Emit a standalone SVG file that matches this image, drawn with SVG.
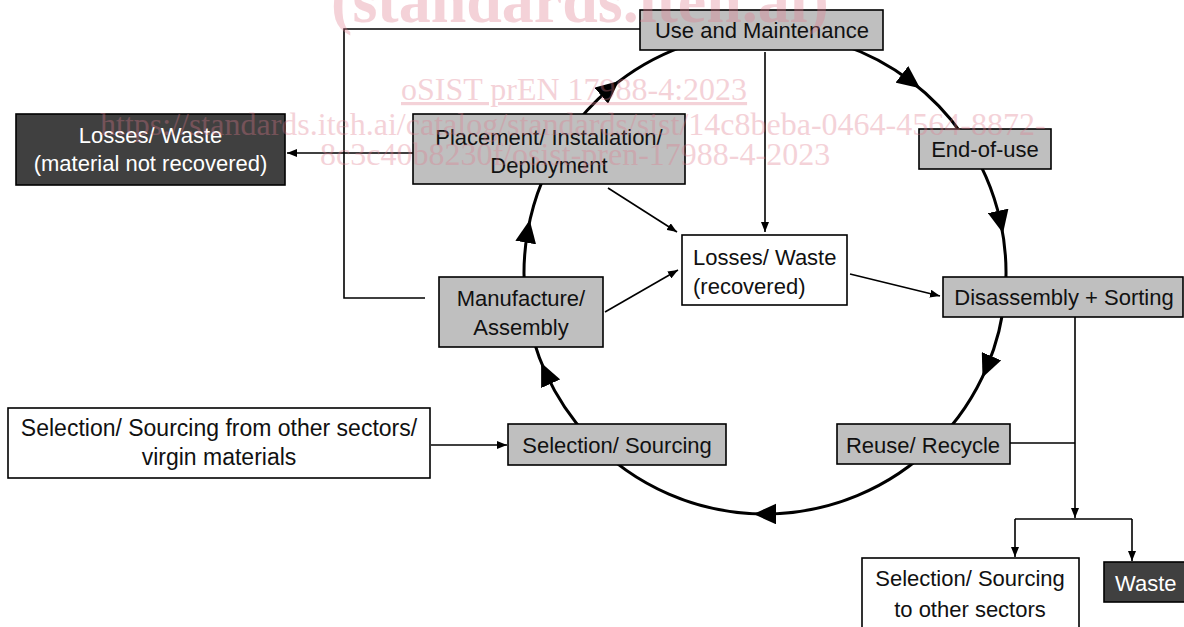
<svg xmlns="http://www.w3.org/2000/svg" width="1184" height="627" viewBox="0 0 1184 627">
<style>
.box{stroke:#000;stroke-width:1.6}
.gray{fill:#bfbfbf}
.dark{fill:#404040}
.white{fill:#fff}
.t{font-family:"Liberation Sans",Arial,sans-serif;font-size:22px;fill:#111}
.tw{font-family:"Liberation Sans",Arial,sans-serif;font-size:22px;fill:#fff}
.c{text-anchor:middle}
.ring{fill:none;stroke:#000;stroke-width:3;marker-mid:url(#big)}
.ln{fill:none;stroke:#000;stroke-width:1.6}
.ar{marker-end:url(#small)}
.wm{font-family:"Liberation Serif","Times New Roman",serif;fill:#e07a8c;opacity:0.33}
</style>
<defs>
<marker id="big" markerUnits="userSpaceOnUse" markerWidth="23" markerHeight="21" viewBox="0 0 23 21" refX="11.5" refY="10.5" orient="auto">
<path d="M0,0 L23,10.5 L0,21 z" fill="#000"/>
</marker>
<marker id="small" markerUnits="userSpaceOnUse" markerWidth="10" markerHeight="8" viewBox="0 0 10 8" refX="10" refY="4" orient="auto">
<path d="M0,0 L10,4 L0,8 z" fill="#000"/>
</marker>
</defs>
<rect width="1184" height="627" fill="#fff"/>

<g id="connectors">
<path class="ring" d="M765,32 A241,241 0 0 1 911.0,81.3 A241,241 0 0 1 962.4,134.8"/>
<path class="ring" d="M962.4,134.8 A241,241 0 0 1 1000.6,222.1 A241,241 0 0 1 1005.1,294.0"/>
<path class="ring" d="M1005.1,294.0 A241,241 0 0 1 987.0,366.8 A241,241 0 0 1 935.4,443.4"/>
<path class="ring" d="M935.4,443.4 A241,241 0 0 1 765,514 A241,241 0 0 1 588.7,437.4"/>
<path class="ring" d="M588.7,437.4 A241,241 0 0 1 545.9,373.3 A241,241 0 0 1 526.3,306.5"/>
<path class="ring" d="M526.3,306.5 A241,241 0 0 1 527.7,231.2 A241,241 0 0 1 567.6,134.8"/>
<path class="ring" d="M567.6,134.8 A241,241 0 0 1 610.1,88.4 A241,241 0 0 1 765,32"/>
<path class="ln" d="M640,29 H344 V298 H425"/>
<path class="ln ar" d="M414,153 H287"/>
<path class="ln ar" d="M765,52 V232"/>
<path class="ln ar" d="M608,188 L677,232"/>
<path class="ln ar" d="M605,312 L678,270"/>
<path class="ln ar" d="M850,274 L940,296"/>
<path class="ln ar" d="M431,445 H507"/>
<path class="ln ar" d="M1075,317 V518"/>
<path class="ln" d="M1010,443 H1075"/>
<path class="ln" d="M1015,519 H1132"/>
<path class="ln ar" d="M1015,519 V557"/>
<path class="ln ar" d="M1132,519 V561"/>
</g>

<g id="use-maintenance">
<rect class="box gray" x="640" y="10" width="243" height="40"/>
<text class="t c" x="762" y="38">Use and Maintenance</text>
</g>
<g id="losses-not-recovered">
<rect class="box dark" x="16" y="114" width="269" height="71"/>
<text class="tw c" x="150.5" y="143">Losses/ Waste</text>
<text class="tw c" x="150.5" y="171">(material not recovered)</text>
</g>
<g id="placement">
<rect class="box gray" x="413" y="114" width="272" height="70"/>
<text class="t c" x="549" y="145">Placement/ Installation/</text>
<text class="t c" x="549" y="173">Deployment</text>
</g>
<g id="end-of-use">
<rect class="box gray" x="919" y="129" width="132" height="40"/>
<text class="t c" x="985" y="157">End-of-use</text>
</g>
<g id="manufacture">
<rect class="box gray" x="439" y="277" width="164" height="70"/>
<text class="t c" x="521" y="306">Manufacture/</text>
<text class="t c" x="521" y="335">Assembly</text>
</g>
<g id="losses-recovered">
<rect class="box white" x="682" y="235" width="165" height="70"/>
<text class="t" x="693" y="265">Losses/ Waste</text>
<text class="t" x="693" y="294">(recovered)</text>
</g>
<g id="disassembly">
<rect class="box gray" x="943" y="277" width="240" height="40"/>
<text class="t c" x="1064" y="305">Disassembly + Sorting</text>
</g>
<g id="reuse-recycle">
<rect class="box gray" x="837" y="424" width="173" height="40"/>
<text class="t c" x="923" y="453">Reuse/ Recycle</text>
</g>
<g id="selection-sourcing">
<rect class="box gray" x="508" y="424" width="218" height="41"/>
<text class="t c" x="617" y="453">Selection/ Sourcing</text>
</g>
<g id="sourcing-from-other">
<rect class="box white" x="8" y="408" width="422" height="70"/>
<text class="t c" x="219" y="436" style="font-size:23px">Selection/ Sourcing from other sectors/</text>
<text class="t c" x="219" y="465" style="font-size:23px">virgin materials</text>
</g>
<g id="sourcing-to-other">
<rect class="box white" x="862" y="558" width="217" height="75"/>
<text class="t c" x="970" y="586">Selection/ Sourcing</text>
<text class="t c" x="970" y="617">to other sectors</text>
</g>
<g id="waste">
<rect class="box dark" x="1104" y="562" width="90" height="40"/>
<text class="tw" x="1115" y="591">Waste</text>
</g>

<g id="watermark">
<text class="wm" x="580" y="22" font-size="64" font-weight="bold" text-anchor="middle">(standards.iteh.ai)</text>
<text class="wm" x="401" y="100" font-size="32" text-decoration="underline">oSIST prEN 17988-4:2023</text>
<text class="wm" x="100" y="135" font-size="32">https://standards.iteh.ai/catalog/standards/sist/14c8beba-0464-4564-8872-</text>
<text class="wm" x="320" y="165" font-size="32">8c3c40b8230f/osist-pren-17988-4-2023</text>
</g>
</svg>
